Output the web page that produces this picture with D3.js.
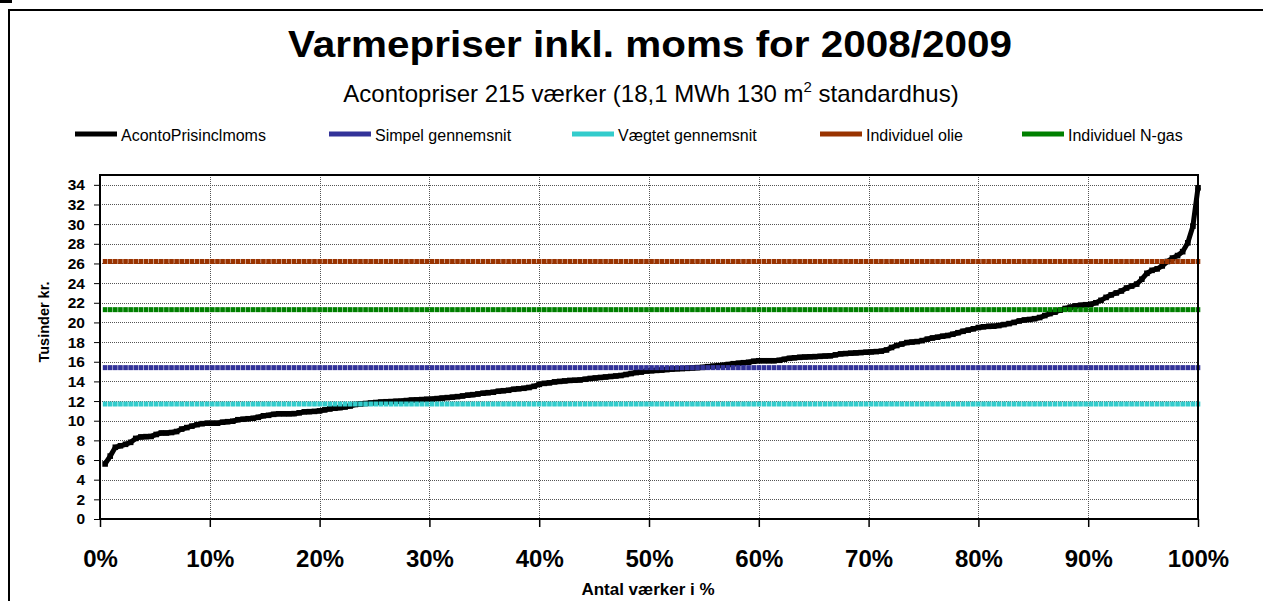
<!DOCTYPE html>
<html>
<head>
<meta charset="utf-8">
<script src="https://cdn.jsdelivr.net/npm/d3@7/dist/d3.min.js"></script>
<style>
  body { margin: 0; background: #fff; }
  svg { display: block; font-family: "Liberation Sans", Arial, sans-serif; }
</style>
</head>
<body>
<div class="chart"></div>
<script>
// sorted aconto prices for the 215 plants, thousand kr.
var acontoPris = [
  5.6, 6.4, 7.3, 7.45, 7.6, 7.8, 8.2, 8.35, 8.38, 8.4,
  8.6, 8.75, 8.75, 8.8, 8.9, 9.15, 9.3, 9.45, 9.6, 9.7,
  9.75, 9.75, 9.75, 9.85, 9.9, 9.95, 10.1, 10.15, 10.2, 10.25,
  10.35, 10.5, 10.55, 10.65, 10.7, 10.7, 10.7, 10.72, 10.8, 10.9,
  10.92, 10.95, 11.0, 11.1, 11.2, 11.27, 11.33, 11.4, 11.5, 11.65,
  11.7, 11.75, 11.8, 11.85, 11.9, 11.93, 11.95, 11.98, 12.0, 12.05,
  12.1, 12.12, 12.15, 12.18, 12.2, 12.25, 12.3, 12.35, 12.4, 12.45,
  12.52, 12.6, 12.65, 12.72, 12.8, 12.85, 12.9, 13.0, 13.05, 13.1,
  13.2, 13.25, 13.3, 13.38, 13.5, 13.7, 13.8, 13.85, 13.95, 14.0,
  14.05, 14.1, 14.12, 14.15, 14.22, 14.3, 14.35, 14.4, 14.45, 14.5,
  14.55, 14.6, 14.7, 14.8, 14.9, 14.95, 15.05, 15.08, 15.12, 15.15,
  15.2, 15.25, 15.28, 15.3, 15.33, 15.37, 15.4, 15.43, 15.5, 15.55,
  15.6, 15.65, 15.72, 15.8, 15.85, 15.9, 15.95, 16.05, 16.1, 16.1,
  16.1, 16.1, 16.15, 16.25, 16.35, 16.4, 16.45, 16.48, 16.5, 16.52,
  16.55, 16.58, 16.6, 16.7, 16.8, 16.83, 16.87, 16.9, 16.93, 16.97,
  17.0, 17.03, 17.08, 17.2, 17.45, 17.65, 17.8, 17.95, 18.0, 18.05,
  18.15, 18.3, 18.42, 18.5, 18.6, 18.67, 18.8, 18.95, 19.1, 19.22,
  19.35, 19.48, 19.55, 19.6, 19.62, 19.68, 19.78, 19.88, 20.0, 20.15,
  20.25, 20.3, 20.38, 20.5, 20.7, 20.9, 21.05, 21.25, 21.42, 21.55,
  21.68, 21.75, 21.8, 21.85, 22.0, 22.25, 22.55, 22.8, 23.0, 23.2,
  23.5, 23.7, 23.9, 24.4, 25.0, 25.3, 25.45, 25.75, 26.2, 26.55,
  26.8, 27.2, 28.1, 29.8, 33.7
];

// reference levels
var seriesNames = ["AcontoPrisinclmoms", "Simpel gennemsnit", "Vægtet gennemsnit", "Individuel olie", "Individuel N-gas"];
var seriesColors = ["#000000", "#333399", "#33CCCC", "#993300", "#008000"];
var levelValues = [15.4, 11.7, 26.2, 21.3]; // simpel, vægtet, olie, n-gas

var xTicks = [0, 0.1, 0.2, 0.3, 0.4, 0.5, 0.6, 0.7, 0.8, 0.9, 1];
var yTicks = [0, 2, 4, 6, 8, 10, 12, 14, 16, 18, 20, 22, 24, 26, 28, 30, 32, 34];

var svgWidth = 1263;
var svgHeight = 601;
var plot = { left: 100, top: 175, right: 1198, bottom: 519 };
var n = acontoPris.length;

var svg = d3.select(".chart")
    .append("svg")
    .attr("width", svgWidth)
    .attr("height", svgHeight);

// outer frame
svg.append("rect")
    .attr("x", 9).attr("y", 10)
    .attr("width", 1400).attr("height", 800)
    .attr("fill", "none")
    .attr("stroke", "#000")
    .attr("stroke-width", 2);
svg.append("rect")
    .attr("x", 0).attr("y", 0)
    .attr("width", 12).attr("height", 3)
    .attr("fill", "#000");

var xScale = d3.scaleLinear().domain([0, 1]).range([plot.left, plot.right]);
var yScale = d3.scaleLinear().domain([0, 35]).range([plot.bottom, plot.top]);

// gridlines
var grid = svg.append("g")
    .attr("stroke", "#555")
    .attr("stroke-width", 1)
    .attr("stroke-dasharray", "1,1")
    .attr("shape-rendering", "crispEdges");

grid.selectAll(".hg")
    .data(yTicks.filter(function(d) { return d > 0; }))
    .enter()
    .append("line")
    .attr("x1", plot.left).attr("x2", plot.right)
    .attr("y1", function(d) { return Math.round(yScale(d)) + 0.5; })
    .attr("y2", function(d) { return Math.round(yScale(d)) + 0.5; });

grid.selectAll(".vg")
    .data(xTicks.filter(function(d) { return d > 0 && d < 1; }))
    .enter()
    .append("line")
    .attr("y1", plot.top).attr("y2", plot.bottom)
    .attr("x1", function(d) { return Math.round(xScale(d)) + 0.5; })
    .attr("x2", function(d) { return Math.round(xScale(d)) + 0.5; });

var idx = d3.range(1, n + 1);
function xPos(i) { return xScale(i / n); }

// black curve
var line = d3.line()
    .x(function(d, i) { return xPos(i + 1); })
    .y(function(d) { return yScale(d); });

svg.append("path")
    .datum(acontoPris)
    .attr("d", line)
    .attr("fill", "none")
    .attr("stroke", "#000")
    .attr("stroke-width", 5);

svg.append("g")
    .selectAll("rect")
    .data(acontoPris)
    .enter()
    .append("rect")
    .attr("x", function(d, i) { return xPos(i + 1) - 2.8; })
    .attr("y", function(d) { return yScale(d) - 2.8; })
    .attr("width", 5.6)
    .attr("height", 5.6)
    .attr("fill", "#000");

// constant level series drawn with square markers like the original
levelValues.forEach(function(v, k) {
    svg.append("g")
        .selectAll("rect")
        .data(idx)
        .enter()
        .append("rect")
        .attr("x", function(i) { return xPos(i) - 2.3; })
        .attr("y", yScale(v) - 2.5)
        .attr("width", 4.6)
        .attr("height", 5)
        .attr("fill", seriesColors[k + 1]);
});

// plot border
svg.append("rect")
    .attr("x", plot.left).attr("y", plot.top)
    .attr("width", plot.right - plot.left)
    .attr("height", plot.bottom - plot.top)
    .attr("fill", "none")
    .attr("stroke", "#000")
    .attr("stroke-width", 2);

// axes
var bottomAxis = d3.axisBottom(xScale)
    .tickValues(xTicks)
    .tickFormat(d3.format(".0%"))
    .tickSize(8)
    .tickPadding(23);

var leftAxis = d3.axisLeft(yScale)
    .tickValues(yTicks)
    .tickSize(6)
    .tickPadding(9);

var gx = svg.append("g")
    .attr("transform", "translate(0," + plot.bottom + ")")
    .call(bottomAxis);
gx.select(".domain").remove();
gx.selectAll("line").attr("stroke-width", 1.5);
gx.selectAll("text")
    .attr("font-size", 24)
    .attr("font-weight", "bold")
    .attr("font-family", "Liberation Sans, Arial, sans-serif")
    .attr("fill", "#000");

var gy = svg.append("g")
    .attr("transform", "translate(" + plot.left + ",0)")
    .call(leftAxis);
gy.select(".domain").remove();
gy.selectAll("line").attr("stroke-width", 1);
gy.selectAll("text")
    .attr("font-size", 15.5)
    .attr("font-weight", "bold")
    .attr("font-family", "Liberation Sans, Arial, sans-serif")
    .attr("fill", "#000");

// titles
svg.append("text")
    .attr("x", 650)
    .attr("y", 57)
    .attr("text-anchor", "middle")
    .attr("font-size", 37)
    .attr("font-weight", "bold")
    .attr("textLength", 724)
    .attr("lengthAdjust", "spacingAndGlyphs")
    .text("Varmepriser inkl. moms for 2008/2009");

var sub = svg.append("text")
    .attr("x", 651)
    .attr("y", 102)
    .attr("text-anchor", "middle")
    .attr("font-size", 24);
sub.append("tspan").text("Acontopriser 215 værker (18,1 MWh 130 m");
sub.append("tspan").attr("font-size", 15).attr("dy", -10).text("2");
sub.append("tspan").attr("dy", 10).text(" standardhus)");

svg.append("text")
    .attr("transform", "translate(49,322) rotate(-90)")
    .attr("text-anchor", "middle")
    .attr("font-size", 14.5)
    .attr("font-weight", "bold")
    .text("Tusinder kr.");

svg.append("text")
    .attr("x", 648)
    .attr("y", 595)
    .attr("text-anchor", "middle")
    .attr("font-size", 17)
    .attr("font-weight", "bold")
    .text("Antal værker i %");

// legend
var legendX = [75, 329, 572, 820, 1022];
var legend = svg.selectAll(".legend")
    .data(seriesNames)
    .enter()
    .append("g")
    .attr("transform", function(d, i) { return "translate(" + legendX[i] + ",134)"; });

legend.append("rect")
    .attr("x", 0).attr("y", -2.5)
    .attr("width", 42).attr("height", 5)
    .attr("fill", function(d, i) { return seriesColors[i]; });

legend.append("text")
    .attr("x", 46)
    .attr("y", 7)
    .attr("font-size", 16)
    .text(function(d) { return d; });
</script>
</body>
</html>
